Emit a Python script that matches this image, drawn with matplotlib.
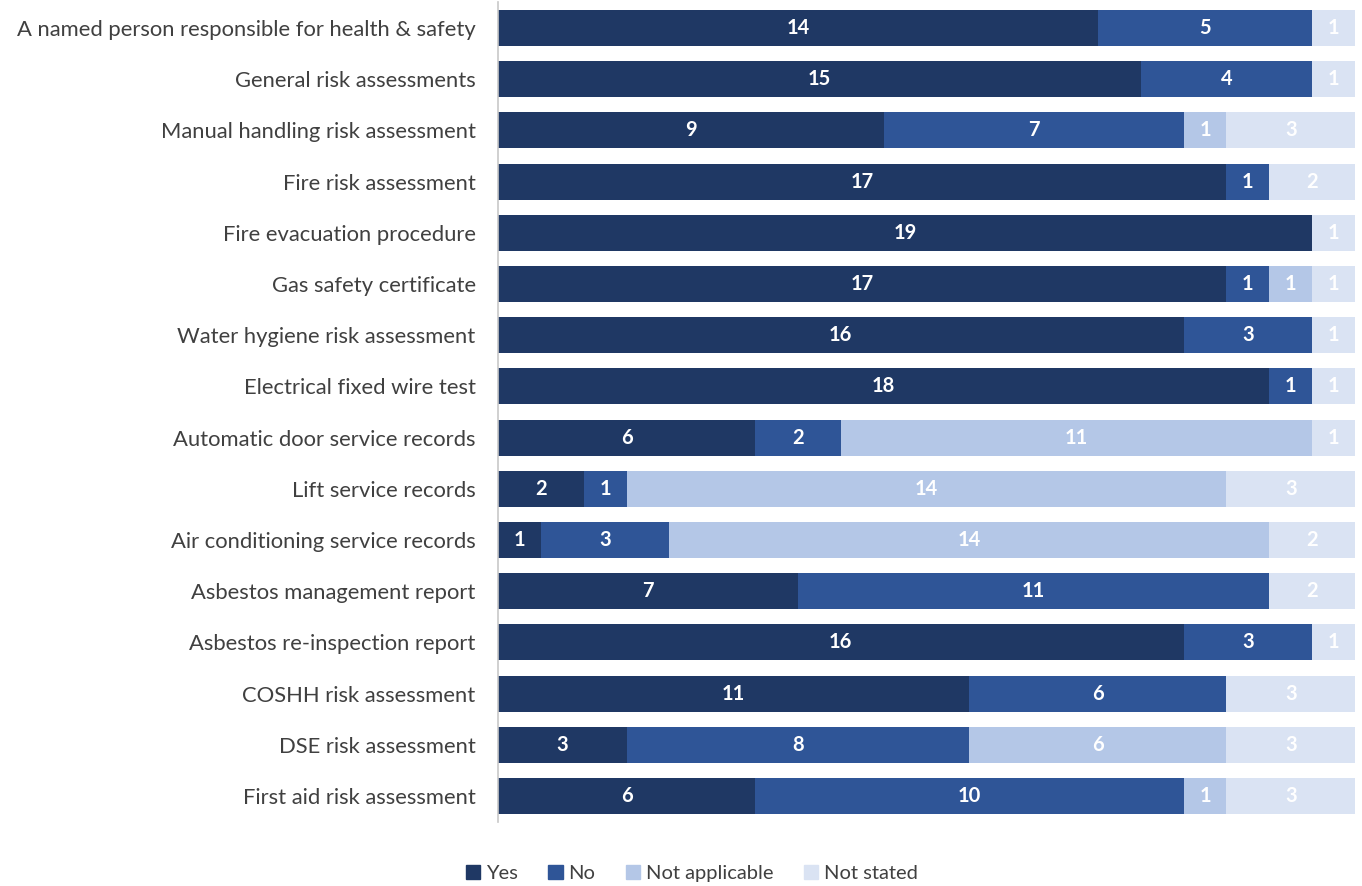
import numpy as np
import matplotlib.pyplot as plt
from matplotlib.patches import Patch

plt.rcParams['font.family'] = ['Lato', 'DejaVu Sans']

categories = [
    "A named person responsible for health & safety",
    "General risk assessments",
    "Manual handling risk assessment",
    "Fire risk assessment",
    "Fire evacuation procedure",
    "Gas safety certificate",
    "Water hygiene risk assessment",
    "Electrical fixed wire test",
    "Automatic door service records",
    "Lift service records",
    "Air conditioning service records",
    "Asbestos management report",
    "Asbestos re-inspection report",
    "COSHH risk assessment",
    "DSE risk assessment",
    "First aid risk assessment",
]
yes = [14, 15, 9, 17, 19, 17, 16, 18, 6, 2, 1, 7, 16, 11, 3, 6]
no = [5, 4, 7, 1, 0, 1, 3, 1, 2, 1, 3, 11, 3, 6, 8, 10]
not_applicable = [0, 0, 1, 0, 0, 1, 0, 0, 11, 14, 14, 0, 0, 0, 6, 1]
not_stated = [1, 1, 3, 2, 1, 1, 1, 1, 1, 3, 2, 2, 1, 3, 3, 3]

series = [("Yes", yes, "#1f3864"),
          ("No", no, "#2f5597"),
          ("Not applicable", not_applicable, "#b4c7e7"),
          ("Not stated", not_stated, "#dae3f3")]

fig = plt.figure(figsize=(13.62, 8.86), dpi=100)
ax = fig.add_axes([0.3656, 0.0727, 0.6293, 0.9246])

y = np.arange(len(categories))
left = np.zeros(len(categories))
for name, vals, color in series:
    vals = np.array(vals, dtype=float)
    ax.barh(y, vals, left=left, height=0.7, color=color, label=name)
    for yi, (l, v) in enumerate(zip(left, vals)):
        if v > 0:
            ax.text(l + v / 2, yi, str(int(v)), ha='center', va='center',
                    color='white', fontsize=14.5, fontweight='bold')
    left += vals

ax.set_xlim(0, 20)
ax.set_ylim(len(categories) - 0.5, -0.5)
ax.set_yticks(y)
ax.set_yticklabels(categories, fontsize=15.8, color='#404040')
ax.tick_params(axis='y', length=0, pad=16)
ax.set_xticks([])
for s in ['top', 'right', 'bottom']:
    ax.spines[s].set_visible(False)
ax.spines['left'].set_color('#c8c8c8')
ax.spines['left'].set_linewidth(1.2)

handles = [Patch(color=c, label=n) for n, _, c in series]
fig.legend(handles=handles, loc='center', bbox_to_anchor=(0.508, 0.014), ncol=4,
           frameon=False, fontsize=14.5, handlelength=0.7, handleheight=0.7,
           handletextpad=0.3, columnspacing=1.5, labelcolor='#404040')

fig.savefig('out.png', dpi=100)
